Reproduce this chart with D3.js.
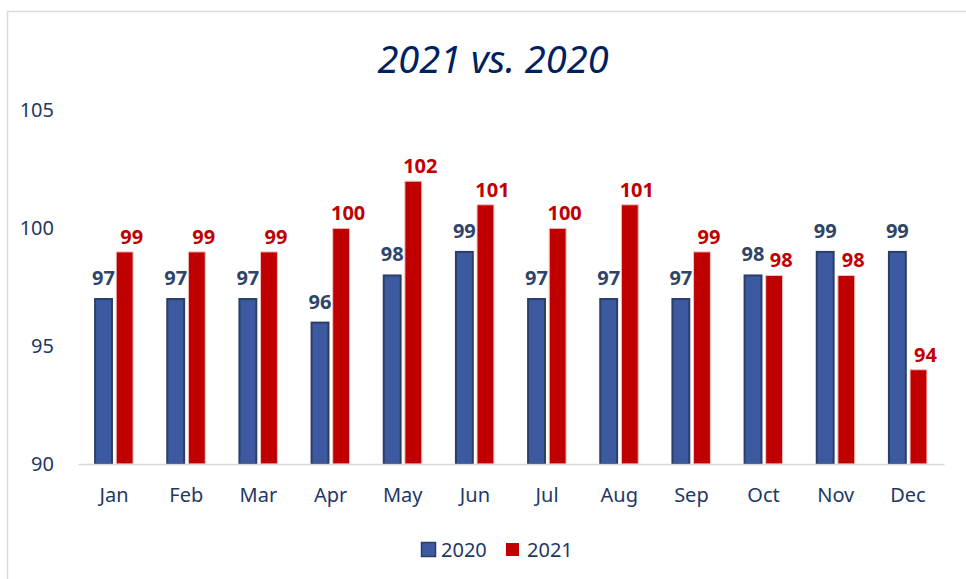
<!DOCTYPE html>
<html>
<head>
<meta charset="utf-8">
<script src="https://cdn.jsdelivr.net/npm/d3@7"></script>
<style>
  body { margin: 0; background: #fff; }
  svg { font-family: "Noto Sans", sans-serif; }
</style>
</head>
<body>
<div id="chart"></div>
<script>
const F_WIDTH = 966;
const F_HEIGHT = 579;
const MARGINS = {left: 78, right: 22, top: 110, bottom: 115};

// data
const MONTHS = ["Jan", "Feb", "Mar", "Apr", "May", "Jun", "Jul", "Aug", "Sep", "Oct", "Nov", "Dec"];
const SERIES = ["2020", "2021"];
const VALUES_2020 = [97, 97, 97, 96, 98, 99, 97, 97, 97, 98, 99, 99];
const VALUES_2021 = [99, 99, 99, 100, 102, 101, 100, 101, 99, 98, 98, 94];
const Y_TICKS = [90, 95, 100, 105];

const FILLS = {"2020": "#3D5AA1", "2021": "#C00000"};
const STROKES = {"2020": "#2A3E66", "2021": "#F2C4C4"};
const LABEL_COLORS = {"2020": "#2E4468", "2021": "#C00000"};
const NAVY = "#1F3864";

const data = MONTHS.map((m, i) => ({month: m, "2020": VALUES_2020[i], "2021": VALUES_2021[i]}));

const FRAME = d3.select("#chart")
  .append("svg")
    .attr("width", F_WIDTH)
    .attr("height", F_HEIGHT);

// chart border
FRAME.append("rect")
  .attr("x", 7.5).attr("y", 11.5)
  .attr("width", F_WIDTH).attr("height", F_HEIGHT)
  .attr("fill", "none")
  .attr("stroke", "#D9D9D9")
  .attr("stroke-width", 1.5);

// title
FRAME.append("text")
  .attr("x", 493).attr("y", 73)
  .attr("text-anchor", "middle")
  .style("font-size", "38px")
  .style("font-style", "italic")
  .style("fill", "#002060")
  .text("2021 vs. 2020");

const X_SCALE = d3.scaleBand()
  .domain(MONTHS)
  .range([MARGINS.left, F_WIDTH - MARGINS.right]);

const X_SUB = d3.scaleBand()
  .domain(SERIES)
  .range([-19, 19])
  .paddingInner(0.2);

const Y_SCALE = d3.scaleLinear()
  .domain([90, 105])
  .range([F_HEIGHT - MARGINS.bottom, MARGINS.top + 0.5]);

// y axis labels
const yAxis = FRAME.append("g")
  .attr("transform", "translate(54,0)")
  .call(d3.axisLeft(Y_SCALE).tickValues(Y_TICKS).tickSize(0).tickPadding(0));
yAxis.select(".domain").remove();
yAxis.selectAll("text")
  .style("font-size", "20px")
  .style("font-family", "Noto Sans, sans-serif")
  .style("fill", NAVY);

// bars
const groups = FRAME.append("g")
  .selectAll("g")
  .data(data)
  .enter()
  .append("g")
    .attr("transform", (d) => "translate(" + (X_SCALE(d.month) + X_SCALE.bandwidth() / 2) + ",0)");

groups.selectAll("rect")
  .data((d) => SERIES.map((s) => ({s: s, v: d[s]})))
  .enter()
  .append("rect")
    .attr("x", (d) => X_SUB(d.s))
    .attr("y", (d) => Y_SCALE(d.v))
    .attr("width", X_SUB.bandwidth())
    .attr("height", (d) => Y_SCALE(90) - Y_SCALE(d.v))
    .attr("fill", (d) => FILLS[d.s])
    .attr("stroke", (d) => STROKES[d.s])
    .attr("stroke-width", (d) => d.s === "2020" ? 2 : 1);

// value labels
groups.selectAll("text")
  .data((d) => SERIES.map((s) => ({s: s, v: d[s]})))
  .enter()
  .append("text")
    .attr("x", (d) => X_SUB(d.s) + X_SUB.bandwidth() / 2 + (d.s === "2021" ? 7 : 0))
    .attr("y", (d) => Y_SCALE(d.v) - (d.s === "2020" ? 14 : 8))
    .attr("text-anchor", "middle")
    .style("font-size", "20px")
    .style("font-weight", "bold")
    .style("fill", (d) => LABEL_COLORS[d.s])
    .text((d) => d.v);

// x axis
const xAxis = FRAME.append("g")
  .attr("transform", "translate(0," + Y_SCALE(90) + ")")
  .call(d3.axisBottom(X_SCALE).tickSize(0).tickPadding(24).tickSizeOuter(0));
xAxis.select(".domain")
  .attr("stroke", "#D9D9D9")
  .attr("stroke-width", 1.5);
xAxis.selectAll("text")
  .style("font-size", "20px")
  .style("font-family", "Noto Sans, sans-serif")
  .style("fill", NAVY);

// legend
const LEGEND_X = [421, 506];
const legend = FRAME.append("g")
  .selectAll("g")
  .data(SERIES)
  .enter()
  .append("g")
    .attr("transform", (d, i) => "translate(" + LEGEND_X[i] + ",542)");

legend.append("rect")
  .attr("width", (d) => d === "2020" ? 14 : 13)
  .attr("height", (d) => d === "2020" ? 14 : 13)
  .attr("x", (d) => d === "2020" ? 0.5 : 0)
  .attr("y", (d) => d === "2020" ? 0.5 : 1)
  .attr("fill", (d) => FILLS[d])
  .attr("stroke", (d) => d === "2020" ? STROKES[d] : "none")
  .attr("stroke-width", 1.5);

legend.append("text")
  .attr("x", (d) => d === "2020" ? 20 : 21)
  .attr("y", 15)
  .style("font-size", "20px")
  .style("fill", NAVY)
  .text((d) => d);
</script>
</body>
</html>
